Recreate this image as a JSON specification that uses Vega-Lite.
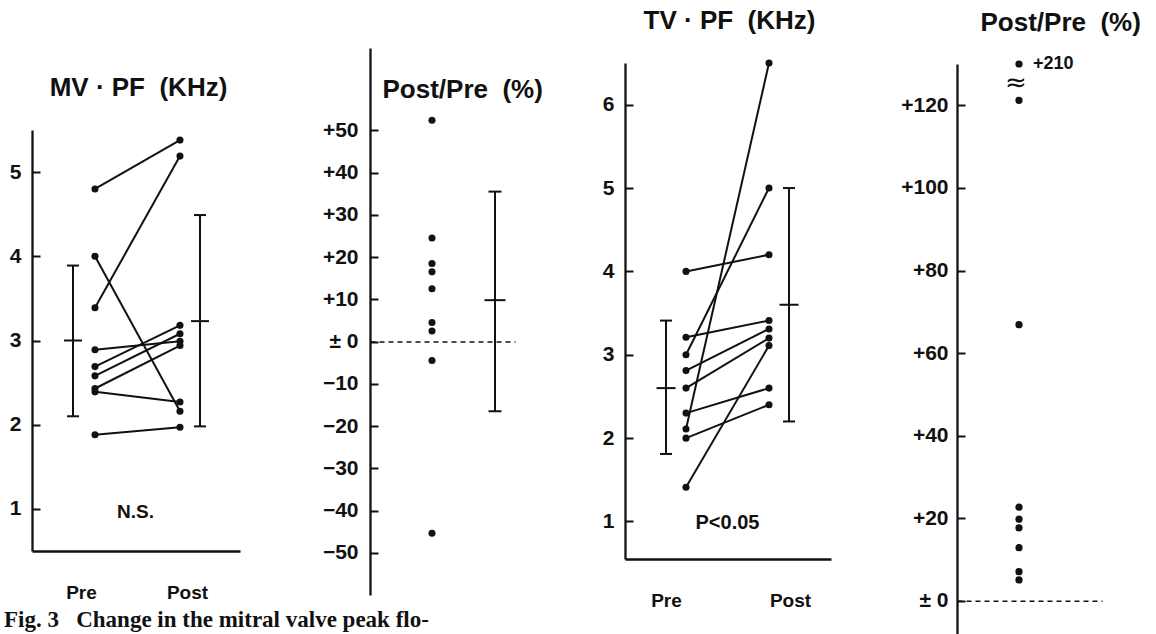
{
  "$schema": "https://vega.github.io/schema/vega-lite/v6.json",
  "width": 1156,
  "height": 634,
  "autosize": {"type": "none"},
  "padding": 0,
  "background": "white",
  "title": {"text": "Fig. 3\u00a0\u00a0\u00a0Change in the mitral valve peak flo-", "orient": "bottom", "anchor": "start", "frame": "group", "offset": -7, "baseline": "alphabetic", "dx": 4, "font": "Liberation Serif, Times New Roman, serif", "fontSize": 23, "fontWeight": "bold", "color": "#111"},
  "config": {
    "view": {"stroke": null},
    "axis": {"grid": false, "domainColor": "#111", "domainWidth": 2.3, "tickColor": "#111", "tickWidth": 2, "labelColor": "#111", "titleColor": "#111", "labelOverlap": false, "labelBound": false, "labelFlush": false}
  },
  "datasets": {
    "mv": [
      {"id": 1, "phase": "Pre", "value": 4.80}, {"id": 1, "phase": "Post", "value": 5.38},
      {"id": 2, "phase": "Pre", "value": 3.39}, {"id": 2, "phase": "Post", "value": 5.19},
      {"id": 3, "phase": "Pre", "value": 4.00}, {"id": 3, "phase": "Post", "value": 2.16},
      {"id": 4, "phase": "Pre", "value": 2.89}, {"id": 4, "phase": "Post", "value": 2.99},
      {"id": 5, "phase": "Pre", "value": 2.69}, {"id": 5, "phase": "Post", "value": 3.18},
      {"id": 6, "phase": "Pre", "value": 2.58}, {"id": 6, "phase": "Post", "value": 3.08},
      {"id": 7, "phase": "Pre", "value": 2.43}, {"id": 7, "phase": "Post", "value": 2.94},
      {"id": 8, "phase": "Pre", "value": 2.39}, {"id": 8, "phase": "Post", "value": 2.27},
      {"id": 9, "phase": "Pre", "value": 1.88}, {"id": 9, "phase": "Post", "value": 1.97}
    ],
    "mvstat": [
      {"phase": "Pre", "mean": 3.0, "lo": 2.1, "hi": 3.89},
      {"phase": "Post", "mean": 3.23, "lo": 1.98, "hi": 4.49}
    ],
    "mvratio": [
      {"ratio": 52.4}, {"ratio": 24.5}, {"ratio": 18.5}, {"ratio": 16.5}, {"ratio": 12.5},
      {"ratio": 4.5}, {"ratio": 2.5}, {"ratio": -4.5}, {"ratio": -45.4}
    ],
    "mvratiostat": [{"mean": 9.8, "lo": -16.5, "hi": 35.5}],
    "tv": [
      {"id": 1, "phase": "Pre", "value": 4.00}, {"id": 1, "phase": "Post", "value": 4.20},
      {"id": 2, "phase": "Pre", "value": 3.21}, {"id": 2, "phase": "Post", "value": 3.41},
      {"id": 3, "phase": "Pre", "value": 3.00}, {"id": 3, "phase": "Post", "value": 5.00},
      {"id": 4, "phase": "Pre", "value": 2.81}, {"id": 4, "phase": "Post", "value": 3.31},
      {"id": 5, "phase": "Pre", "value": 2.60}, {"id": 5, "phase": "Post", "value": 3.20},
      {"id": 6, "phase": "Pre", "value": 2.30}, {"id": 6, "phase": "Post", "value": 2.60},
      {"id": 7, "phase": "Pre", "value": 2.11}, {"id": 7, "phase": "Post", "value": 6.50},
      {"id": 8, "phase": "Pre", "value": 2.00}, {"id": 8, "phase": "Post", "value": 2.40},
      {"id": 9, "phase": "Pre", "value": 1.41}, {"id": 9, "phase": "Post", "value": 3.11}
    ],
    "tvstat": [
      {"phase": "Pre", "mean": 2.6, "lo": 1.81, "hi": 3.41},
      {"phase": "Post", "mean": 3.6, "lo": 2.2, "hi": 5.0}
    ],
    "tvratio": [
      {"ratio": 210}, {"ratio": 121.2}, {"ratio": 66.9}, {"ratio": 22.7}, {"ratio": 19.8},
      {"ratio": 17.7}, {"ratio": 12.9}, {"ratio": 7.1}, {"ratio": 5.1}
    ]
  },
  "layer": [
    {
      "data": {"name": "mv"},
      "layer": [
        {
          "mark": {"type": "line", "color": "#111", "strokeWidth": 2},
          "encoding": {
            "x": {"field": "phase", "type": "nominal",
              "scale": {"type": "point", "domain": ["Pre", "Post"], "range": [32, 240], "padding": 0.7235, "align": 0.512},
              "axis": {"orient": "bottom", "offset": -83, "ticks": false, "labelPadding": 41, "labelBaseline": "middle", "labelAngle": 0,
                "labelFont": "Liberation Sans, Arial, sans-serif", "labelFontSize": 19, "labelFontWeight": "bold",
                "labelOffset": {"condition": {"test": "datum.value === 'Pre'", "value": -14}, "value": 7},
                "title": "N.S.", "titleX": 135, "titleY": -40, "titleAlign": "center", "titleBaseline": "middle",
                "titleFont": "Liberation Sans, Arial, sans-serif", "titleFontSize": 19, "titleFontWeight": "bold"}},
            "y": {"field": "value", "type": "quantitative",
              "scale": {"domain": [0.5, 5.5], "range": [551, 130], "zero": false, "nice": false},
              "axis": {"orient": "left", "offset": -32, "values": [1, 2, 3, 4, 5], "format": "d", "tickSize": -8, "labelPadding": 19,
                "labelFont": "Liberation Sans Narrow, Liberation Sans, sans-serif", "labelFontSize": 21, "labelFontWeight": "bold",
                "title": "MV\u00a0·\u00a0PF\u00a0\u00a0(KHz)", "titleAngle": 0, "titleX": 106, "titleY": 87, "titleAlign": "center", "titleBaseline": "middle",
                "titleFont": "Liberation Sans, Arial, sans-serif", "titleFontSize": 26, "titleFontWeight": "bold"}},
            "detail": {"field": "id"}
          }
        },
        {
          "mark": {"type": "point", "filled": true, "size": 50, "color": "#111", "opacity": 1},
          "encoding": {"x": {"field": "phase", "type": "nominal"}, "y": {"field": "value", "type": "quantitative"}}
        },
        {
          "data": {"name": "mvstat"},
          "mark": {"type": "rule", "color": "#111", "strokeWidth": 2, "xOffset": {"expr": "datum.phase === 'Pre' ? -22 : 20"}},
          "encoding": {"x": {"field": "phase", "type": "nominal"}, "y": {"field": "lo", "type": "quantitative"}, "y2": {"field": "hi"}}
        },
        {
          "data": {"name": "mvstat"},
          "mark": {"type": "tick", "orient": "horizontal", "color": "#111", "thickness": 2, "size": 12, "opacity": 1, "xOffset": {"expr": "datum.phase === 'Pre' ? -22 : 20"}},
          "encoding": {"x": {"field": "phase", "type": "nominal"}, "y": {"field": "lo", "type": "quantitative"}}
        },
        {
          "data": {"name": "mvstat"},
          "mark": {"type": "tick", "orient": "horizontal", "color": "#111", "thickness": 2, "size": 12, "opacity": 1, "xOffset": {"expr": "datum.phase === 'Pre' ? -22 : 20"}},
          "encoding": {"x": {"field": "phase", "type": "nominal"}, "y": {"field": "hi", "type": "quantitative"}}
        },
        {
          "data": {"name": "mvstat"},
          "mark": {"type": "tick", "orient": "horizontal", "color": "#111", "thickness": 2, "size": 18, "opacity": 1, "xOffset": {"expr": "datum.phase === 'Pre' ? -22 : 20"}},
          "encoding": {"x": {"field": "phase", "type": "nominal"}, "y": {"field": "mean", "type": "quantitative"}}
        }
      ]
    },
    {
      "data": {"name": "mvratio"},
      "layer": [
        {
          "mark": {"type": "point", "filled": true, "size": 50, "color": "#111", "opacity": 1},
          "encoding": {
            "x": {"datum": "values", "type": "nominal",
              "scale": {"type": "point", "domain": ["values", "summary"], "range": [370, 515], "padding": 0.651, "align": 0.756},
              "axis": {"orient": "bottom", "offset": -292.4, "labels": false, "ticks": false, "title": null, "domainDash": [5, 4], "domainWidth": 1.5}},
            "y": {"field": "ratio", "type": "quantitative",
              "scale": {"domain": [-60, 69.5], "range": [595, 48], "zero": false, "nice": false},
              "axis": {"orient": "left", "offset": -370, "values": [-50, -40, -30, -20, -10, 0, 10, 20, 30, 40, 50], "tickSize": -8, "labelPadding": 20,
                "labelExpr": "datum.value > 0 ? '+' + datum.value : (datum.value < 0 ? '−' + (-datum.value) : '± 0')",
                "labelFont": "Liberation Sans Narrow, Liberation Sans, sans-serif", "labelFontSize": 21, "labelFontWeight": "bold",
                "title": "Post/Pre\u00a0\u00a0(%)", "titleAngle": 0, "titleX": 12, "titleY": 89, "titleAlign": "left", "titleBaseline": "middle",
                "titleFont": "Liberation Sans, Arial, sans-serif", "titleFontSize": 26, "titleFontWeight": "bold"}}
          }
        },
        {
          "data": {"name": "mvratiostat"},
          "mark": {"type": "rule", "color": "#111", "strokeWidth": 2},
          "encoding": {"x": {"datum": "summary", "type": "nominal"}, "y": {"field": "lo", "type": "quantitative"}, "y2": {"field": "hi"}}
        },
        {
          "data": {"name": "mvratiostat"},
          "mark": {"type": "tick", "orient": "horizontal", "color": "#111", "thickness": 2, "size": 13, "opacity": 1},
          "encoding": {"x": {"datum": "summary", "type": "nominal"}, "y": {"field": "lo", "type": "quantitative"}}
        },
        {
          "data": {"name": "mvratiostat"},
          "mark": {"type": "tick", "orient": "horizontal", "color": "#111", "thickness": 2, "size": 13, "opacity": 1},
          "encoding": {"x": {"datum": "summary", "type": "nominal"}, "y": {"field": "hi", "type": "quantitative"}}
        },
        {
          "data": {"name": "mvratiostat"},
          "mark": {"type": "tick", "orient": "horizontal", "color": "#111", "thickness": 2, "size": 21, "opacity": 1},
          "encoding": {"x": {"datum": "summary", "type": "nominal"}, "y": {"field": "mean", "type": "quantitative"}}
        }
      ]
    },
    {
      "data": {"name": "tv"},
      "layer": [
        {
          "mark": {"type": "line", "color": "#111", "strokeWidth": 2},
          "encoding": {
            "x": {"field": "phase", "type": "nominal",
              "scale": {"type": "point", "domain": ["Pre", "Post"], "range": [625, 831], "padding": 0.741, "align": 0.496},
              "axis": {"orient": "bottom", "offset": -75, "ticks": false, "labelPadding": 41, "labelBaseline": "middle", "labelAngle": 0,
                "labelFont": "Liberation Sans, Arial, sans-serif", "labelFontSize": 19, "labelFontWeight": "bold",
                "labelOffset": {"condition": {"test": "datum.value === 'Pre'", "value": -20}, "value": 21},
                "title": "P<0.05", "titleX": 727, "titleY": -37, "titleAlign": "center", "titleBaseline": "middle",
                "titleFont": "Liberation Sans, Arial, sans-serif", "titleFontSize": 20, "titleFontWeight": "bold"}},
            "y": {"field": "value", "type": "quantitative",
              "scale": {"domain": [0.55, 6.5], "range": [559, 63], "zero": false, "nice": false},
              "axis": {"orient": "left", "offset": -625, "values": [1, 2, 3, 4, 5, 6], "format": "d", "tickSize": -8, "labelPadding": 19,
                "labelFont": "Liberation Sans Narrow, Liberation Sans, sans-serif", "labelFontSize": 21, "labelFontWeight": "bold",
                "title": "TV\u00a0·\u00a0PF\u00a0\u00a0(KHz)", "titleAngle": 0, "titleX": 104, "titleY": 20, "titleAlign": "center", "titleBaseline": "middle",
                "titleFont": "Liberation Sans, Arial, sans-serif", "titleFontSize": 26, "titleFontWeight": "bold"}},
            "detail": {"field": "id"}
          }
        },
        {
          "mark": {"type": "point", "filled": true, "size": 50, "color": "#111", "opacity": 1},
          "encoding": {"x": {"field": "phase", "type": "nominal"}, "y": {"field": "value", "type": "quantitative"}}
        },
        {
          "data": {"name": "tvstat"},
          "mark": {"type": "rule", "color": "#111", "strokeWidth": 2, "xOffset": {"expr": "datum.phase === 'Pre' ? -20 : 20"}},
          "encoding": {"x": {"field": "phase", "type": "nominal"}, "y": {"field": "lo", "type": "quantitative"}, "y2": {"field": "hi"}}
        },
        {
          "data": {"name": "tvstat"},
          "mark": {"type": "tick", "orient": "horizontal", "color": "#111", "thickness": 2, "size": 12, "opacity": 1, "xOffset": {"expr": "datum.phase === 'Pre' ? -20 : 20"}},
          "encoding": {"x": {"field": "phase", "type": "nominal"}, "y": {"field": "lo", "type": "quantitative"}}
        },
        {
          "data": {"name": "tvstat"},
          "mark": {"type": "tick", "orient": "horizontal", "color": "#111", "thickness": 2, "size": 12, "opacity": 1, "xOffset": {"expr": "datum.phase === 'Pre' ? -20 : 20"}},
          "encoding": {"x": {"field": "phase", "type": "nominal"}, "y": {"field": "hi", "type": "quantitative"}}
        },
        {
          "data": {"name": "tvstat"},
          "mark": {"type": "tick", "orient": "horizontal", "color": "#111", "thickness": 2, "size": 19, "opacity": 1, "xOffset": {"expr": "datum.phase === 'Pre' ? -20 : 20"}},
          "encoding": {"x": {"field": "phase", "type": "nominal"}, "y": {"field": "mean", "type": "quantitative"}}
        }
      ]
    },
    {
      "data": {"name": "tvratio"},
      "layer": [
        {
          "mark": {"type": "point", "filled": true, "size": 52, "color": "#111", "opacity": 1},
          "encoding": {
            "x": {"datum": "values", "type": "nominal",
              "scale": {"type": "point", "domain": ["values", "summary"], "range": [957, 1102], "padding": 0.651, "align": 0.756},
              "axis": {"orient": "bottom", "offset": -33.3, "labels": false, "ticks": false, "title": null, "domainDash": [5, 4], "domainWidth": 1.5}},
            "y": {"field": "ratio", "type": "quantitative",
              "scale": {"domain": [-8, 130], "range": [634, 64], "zero": false, "nice": false, "clamp": true},
              "axis": {"orient": "left", "offset": -957, "values": [0, 20, 40, 60, 80, 100, 120], "tickSize": -8, "labelPadding": 17,
                "labelExpr": "datum.value > 0 ? '+' + datum.value : (datum.value < 0 ? '−' + (-datum.value) : '± 0')",
                "labelFont": "Liberation Sans Narrow, Liberation Sans, sans-serif", "labelFontSize": 21, "labelFontWeight": "bold",
                "title": "Post/Pre\u00a0\u00a0(%)", "titleAngle": 0, "titleX": 23, "titleY": 22, "titleAlign": "left", "titleBaseline": "middle",
                "titleFont": "Liberation Sans, Arial, sans-serif", "titleFontSize": 26, "titleFontWeight": "bold"}}
          }
        },
        {
          "transform": [{"filter": "datum.ratio > 130"}],
          "mark": {"type": "text", "align": "left", "baseline": "middle", "dx": 14, "color": "#111", "font": "Liberation Sans, Arial, sans-serif", "fontSize": 18, "fontWeight": "bold", "letterSpacing": 1},
          "encoding": {"x": {"datum": "values", "type": "nominal"}, "y": {"field": "ratio", "type": "quantitative"}, "text": {"field": "ratio", "type": "quantitative", "format": "+d"}}
        },
        {
          "transform": [{"filter": "datum.ratio > 130"}],
          "mark": {"type": "text", "align": "center", "baseline": "middle", "dx": -3, "dy": 19, "color": "#111", "font": "DejaVu Sans, sans-serif", "fontSize": 26, "text": "≈"},
          "encoding": {"x": {"datum": "values", "type": "nominal"}, "y": {"field": "ratio", "type": "quantitative"}}
        }
      ]
    }
  ],
  "resolve": {"scale": {"x": "independent", "y": "independent"}, "axis": {"x": "independent", "y": "independent"}}
}
